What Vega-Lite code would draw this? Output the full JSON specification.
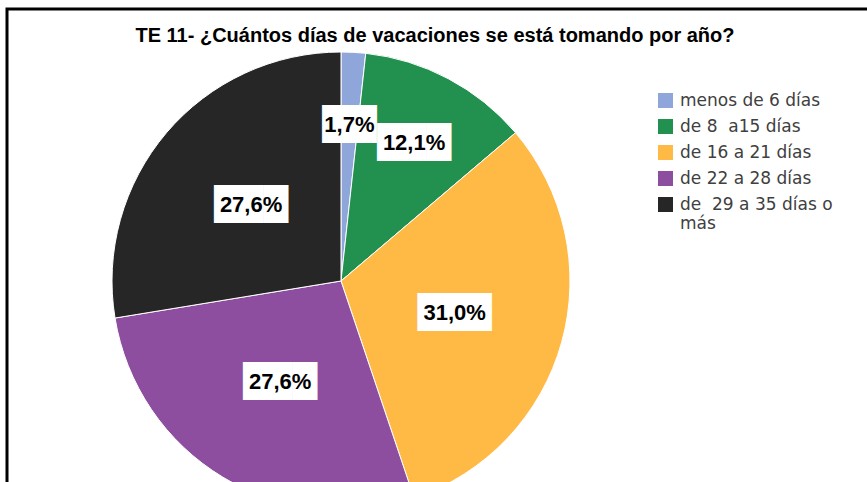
{
  "$schema": "https://vega.github.io/schema/vega-lite/v6.json",
  "width": 860,
  "height": 544,
  "autosize": "none",
  "padding": {"left": 7, "top": 9, "right": 0, "bottom": -71},
  "background": "white",
  "view": {"stroke": "black", "strokeWidth": 3, "strokeDash": [860, 1404, 544]},
  "title": {
    "text": "TE 11- ¿Cuántos días de vacaciones se está tomando por año?",
    "font": "Liberation Sans",
    "fontSize": 20,
    "fontWeight": "bold",
    "color": "black",
    "anchor": "middle",
    "dx": -2,
    "offset": -53,
    "baseline": "alphabetic"
  },
  "data": {
    "values": [
      {"i": 1, "cat": "menos de 6 días", "n": 1, "label": "1,7%"},
      {"i": 2, "cat": "de 8  a15 días", "n": 7, "label": "12,1%"},
      {"i": 3, "cat": "de 16 a 21 días", "n": 18, "label": "31,0%"},
      {"i": 4, "cat": "de 22 a 28 días", "n": 16, "label": "27,6%"},
      {"i": 5, "cat": "de  29 a 35 días o más", "n": 16, "label": "27,6%"}
    ]
  },
  "encoding": {
    "theta": {"field": "n", "type": "quantitative", "stack": true},
    "order": {"field": "i", "type": "quantitative"}
  },
  "layer": [
    {
      "mark": {"type": "arc", "radius": 229, "stroke": "white", "strokeWidth": 1, "xOffset": -96},
      "encoding": {
        "color": {
          "field": "cat",
          "type": "nominal",
          "scale": {
            "domain": ["menos de 6 días", "de 8  a15 días", "de 16 a 21 días", "de 22 a 28 días", "de  29 a 35 días o más"],
            "range": ["#8FA6DB", "#22904F", "#FFBA45", "#8D4E9F", "#262626"]
          },
          "legend": {
            "orient": "none",
            "legendX": 650,
            "legendY": 83,
            "title": null,
            "symbolType": "square",
            "symbolSize": 225,
            "symbolStrokeWidth": 0,
            "labelFont": "DejaVu Sans",
            "labelFontSize": 17,
            "labelColor": "#404040",
            "labelLimit": 300,
            "labelOffset": 6,
            "rowPadding": 8,
            "labelExpr": "datum.label == 'de  29 a 35 días o más' ? ['de\u00a0 29 a 35 días o', 'más'] : replace(datum.label, '  ', '\u00a0 ')"
          }
        }
      }
    },
    {
      "mark": {
        "type": "text",
        "radius": {"expr": "datum.n < 10 ? 156 : 118"},
        "xOffset": -96,
        "font": "DejaVu Sans",
        "fontSize": 32,
        "fill": "white",
        "text": {"expr": "length(datum.label) > 4 ? '███' : '▕██▏'"}
      },
      "encoding": {"detail": {"field": "cat", "type": "nominal"}}
    },
    {
      "mark": {
        "type": "text",
        "radius": {"expr": "datum.n < 10 ? 156 : 118"},
        "xOffset": -96,
        "font": "Liberation Sans",
        "fontSize": 22,
        "fontWeight": "bold",
        "fill": "black"
      },
      "encoding": {
        "detail": {"field": "cat", "type": "nominal"},
        "text": {"field": "label", "type": "nominal"}
      }
    }
  ],
  "config": {
    "style": {"view": {"stroke": "black", "strokeWidth": 3, "strokeDash": [860, 1404, 544]}}
  }
}
